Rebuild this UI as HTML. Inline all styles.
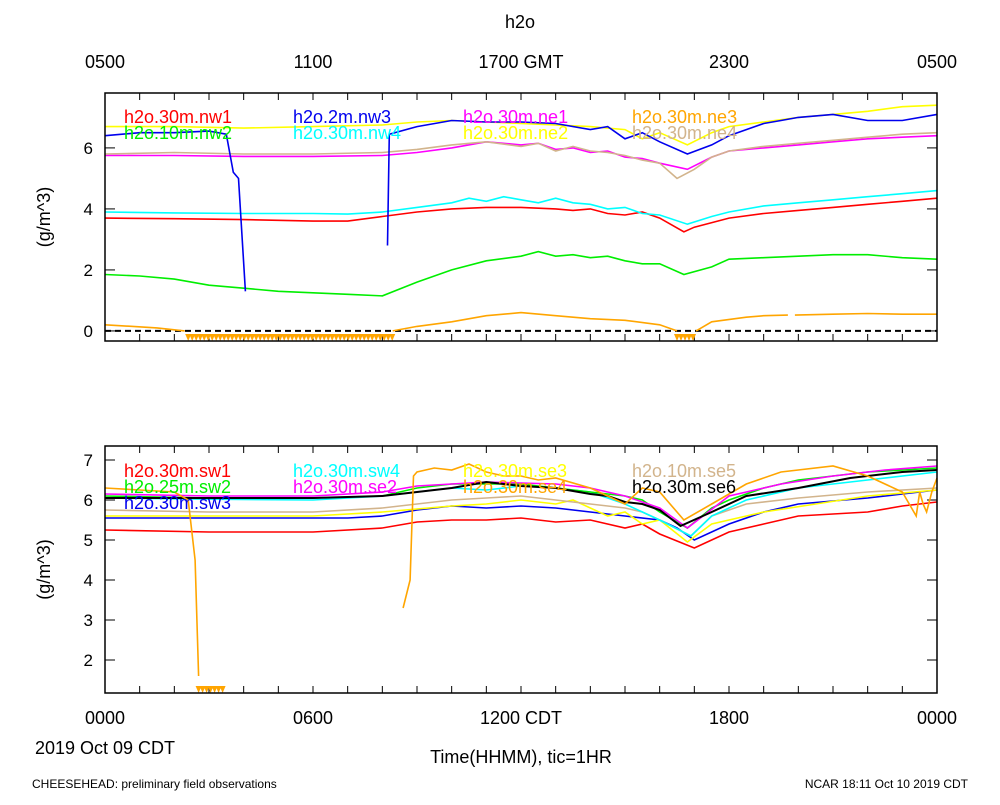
<!DOCTYPE html>
<html><head><meta charset="utf-8"><style>
body{margin:0;background:#fff;}
svg text{font-family:"Liberation Sans",sans-serif;}
</style></head><body>
<svg id="c" width="1000" height="800" xmlns="http://www.w3.org/2000/svg">
<rect width="1000" height="800" fill="#fff"/>
<text x="520" y="28" font-size="18" text-anchor="middle">h2o</text>
<g id="top"></g>
<g id="bot"></g>
<text x="105" y="724" font-size="18" text-anchor="middle">0000</text>
<text x="313" y="724" font-size="18" text-anchor="middle">0600</text>
<text x="521" y="724" font-size="18" text-anchor="middle">1200 CDT</text>
<text x="729" y="724" font-size="18" text-anchor="middle">1800</text>
<text x="937" y="724" font-size="18" text-anchor="middle">0000</text>
<text x="105" y="754" font-size="18" text-anchor="middle">2019 Oct 09 CDT</text>
<text x="521" y="763" font-size="18" text-anchor="middle">Time(HHMM), tic=1HR</text>
<text x="105" y="68" font-size="18" text-anchor="middle">0500</text>
<text x="313" y="68" font-size="18" text-anchor="middle">1100</text>
<text x="521" y="68" font-size="18" text-anchor="middle">1700 GMT</text>
<text x="729" y="68" font-size="18" text-anchor="middle">2300</text>
<text x="937" y="68" font-size="18" text-anchor="middle">0500</text>
<text x="32" y="788" font-size="12">CHEESEHEAD: preliminary field observations</text>
<text x="968" y="788" font-size="12" text-anchor="end">NCAR 18:11 Oct 10 2019 CDT</text>
</svg>
<script>
// ---- top panel data (hours CDT, g/m^3) ----
const topTicks=[0,2,4,6];
const tNw1=[0,2,4,6,7,8,9,10,11,12,13,13.5,14,14.5,15,15.5,16,16.7,17,18,19,20,21,22,23,24];
const vNw1=[3.7,3.68,3.65,3.6,3.6,3.75,3.9,4.0,4.05,4.05,4.0,3.95,4.0,3.85,3.8,3.9,3.7,3.25,3.4,3.7,3.85,3.95,4.05,4.15,4.25,4.35];
const tNw4=[0,2,4,6,7,8,9,10,10.5,11,11.5,12,12.5,13,13.5,14,14.5,15,15.5,16,16.8,17.5,18,19,20,21,22,23,24];
const vNw4=[3.9,3.87,3.85,3.85,3.83,3.9,4.05,4.2,4.35,4.25,4.4,4.3,4.2,4.35,4.2,4.15,4.0,4.05,3.85,3.8,3.5,3.75,3.9,4.1,4.2,4.3,4.4,4.5,4.6];
const tNw2=[0,1,2,3,4,5,6,7,8,9,10,11,12,12.5,13,13.5,14,14.5,15,15.5,16,16.7,17.5,18,19,20,21,22,23,24];
const vNw2=[1.85,1.8,1.7,1.5,1.4,1.3,1.25,1.2,1.15,1.6,2.0,2.3,2.45,2.6,2.45,2.5,2.4,2.45,2.3,2.2,2.2,1.85,2.1,2.35,2.4,2.45,2.5,2.5,2.4,2.35];
const tNe1=[0,2,4,6,8,9,10,11,12,12.5,13,13.5,14,14.5,15,15.5,16,16.8,17.5,18,19,20,21,22,23,24];
const vNe1=[5.75,5.75,5.72,5.72,5.75,5.85,6.0,6.2,6.1,6.15,5.95,6.0,5.85,5.9,5.7,5.65,5.5,5.3,5.7,5.9,6.0,6.1,6.2,6.3,6.35,6.4];
const tNe4=[0,2,4,6,8,9,10,11,12,12.5,13,13.5,14,14.5,15,15.5,16,16.5,17,17.5,18,19,20,21,22,23,24];
const vNe4=[5.8,5.85,5.8,5.8,5.85,5.95,6.1,6.2,6.05,6.15,5.9,6.05,5.9,5.85,5.75,5.6,5.5,5.0,5.3,5.7,5.9,6.05,6.15,6.25,6.35,6.45,6.5];
const tNe2=[0,2,4,6,8,9,10,11,12,13,14,15,15.5,16,16.8,17.5,18,19,20,21,22,23,24];
const vNe2=[6.7,6.7,6.65,6.7,6.75,6.85,6.9,6.85,6.8,6.75,6.7,6.6,6.3,6.5,6.1,6.5,6.7,6.85,7.0,7.1,7.2,7.35,7.4];
const tNw3=[0,1,2,3,3.5,3.7,3.85,4.05,null,8.15,8.2,9,10,11,12,13,14,14.5,15,15.5,16,16.8,17.5,18,19,19.5,20,21,22,23,24];
const vNw3=[6.4,6.5,6.5,6.55,6.45,5.2,5.0,1.3,null,2.8,6.45,6.7,6.9,6.85,6.85,6.8,6.6,6.7,6.3,6.5,6.2,5.8,6.1,6.4,6.8,6.9,7.0,7.1,6.9,6.9,7.1];
const tNe3=[0,1.5,2.3,null,8.3,9,10,11,12,13,14,15,16,16.5,null,17.05,17.5,18.5,19,19.7,null,19.9,21,22,23,24];
const vNe3=[0.2,0.1,0.0,null,0.0,0.15,0.3,0.5,0.6,0.5,0.4,0.35,0.2,0.0,null,0.0,0.3,0.45,0.5,0.52,null,0.52,0.55,0.57,0.55,0.55];
const topMissing=[[2.4,8.3],[16.5,17.05]];
// ---- bottom panel data ----
const botTicks=[2,3,4,5,6,7];
const tSw1=[0,3,6,8,9,10,11,12,13,14,15,15.5,16,17,18,19,20,21,22,23,24];
const vSw1=[5.25,5.2,5.2,5.3,5.45,5.5,5.5,5.55,5.45,5.5,5.3,5.4,5.15,4.8,5.2,5.4,5.6,5.65,5.7,5.85,5.95];
const tSw2=[0,3,6,8,9,10,11,12,13,14,15,15.5,16,16.8,17.5,18,19,20,22,24];
const vSw2=[6.1,6.05,6.05,6.1,6.3,6.4,6.4,6.4,6.3,6.2,6.1,6.0,5.7,5.3,5.8,6.0,6.3,6.5,6.7,6.8];
const tSw3=[0,3,7,8,9,10,11,12,13,14,15,16,16.5,17,18,19,20,22,23,24];
const vSw3=[5.55,5.55,5.55,5.6,5.75,5.85,5.8,5.85,5.8,5.7,5.6,5.5,5.3,5.0,5.4,5.7,5.9,6.05,6.15,6.25];
const tSw4=[0,3,6,8,10,11,12,13,14,15,16,16.9,17.5,18.5,20,22,24];
const vSw4=[6.05,6.02,6.0,6.1,6.3,6.25,6.35,6.3,6.2,5.9,5.5,5.1,5.6,6.0,6.3,6.5,6.7];
const tSe2=[0,3,6,8,9,11,13,14,15,16,16.8,18,19.5,21,22.5,24];
const vSe2=[6.15,6.1,6.1,6.2,6.35,6.45,6.4,6.3,6.1,5.8,5.3,6.1,6.4,6.6,6.75,6.85];
const tSe3=[0,3,6,8,10,11,12,13,13.5,14.5,15,15.5,16,16.8,17.5,19,20.5,22,24];
const vSe3=[5.6,5.6,5.6,5.7,5.85,5.9,6.0,5.9,6.0,5.6,5.7,5.4,5.5,4.95,5.4,5.7,5.9,6.1,6.25];
const tSe5=[0,3,6,8,10,11,12,13,14,15,15.5,16,16.9,17.5,18.5,20,22,24];
const vSe5=[5.75,5.7,5.7,5.8,6.0,6.05,6.1,6.0,5.9,5.8,5.7,5.5,5.1,5.6,5.9,6.05,6.2,6.3];
const tSe6=[0,3,6,8,10,11,12,13,14,14.5,15,15.5,16,16.6,17.5,18.5,20,21.5,23,24];
const vSe6=[6.05,6.05,6.05,6.1,6.3,6.45,6.35,6.3,6.15,6.1,5.95,5.9,5.75,5.35,5.7,6.1,6.3,6.55,6.7,6.75];
const tSe4=[0,1,2,2.4,2.6,2.7,null,8.6,8.8,8.9,9.0,9.5,10,10.5,11,11.5,12,12.5,13,14,15,15.5,16,16.7,17.5,18.5,19.5,21,22,23,23.4,23.5,23.6,23.7,23.85,24];
const vSe4=[6.3,6.25,6.2,6.0,4.5,1.6,null,3.3,4.0,6.6,6.7,6.8,6.75,6.9,6.7,6.6,6.6,6.5,6.55,6.3,5.9,6.3,6.2,5.5,5.9,6.4,6.7,6.85,6.6,6.2,5.6,6.2,5.9,5.7,6.2,6.55];
const botMissing=[[2.7,3.45]];

const NS='http://www.w3.org/2000/svg';
const X0=105,X1=937;
const xs=h=>X0+(X1-X0)*h/24;
function mk(p,tag,at){const e=document.createElementNS(NS,tag);for(const k in at)e.setAttribute(k,at[k]);p.appendChild(e);return e;}

function panel(g,top,bot,vmin,vmax,ticks,series,legend,missing,zero){
  const ys=v=>bot-(v-vmin)/(vmax-vmin)*(bot-top);
  for(let h=0;h<=24;h++){
    const x=xs(h);
    const t1=mk(g,'line',{x1:x,x2:x,y1:top,y2:top+7,stroke:'#000','stroke-width':1});
    
    
    const t2=mk(g,'line',{x1:x,x2:x,y1:bot,y2:bot-7,stroke:'#000','stroke-width':1});
    
    
  }
  ticks.forEach(v=>{
    const y=ys(v);
    const l=mk(g,'line',{x1:X0,x2:X0+10,y1:y,y2:y,stroke:'#000'});
    
    
    const r=mk(g,'line',{x1:X1,x2:X1-10,y1:y,y2:y,stroke:'#000'});
    
    
    const t=mk(g,'text',{x:X0-12,y:y+6,'font-size':17,'text-anchor':'end'});
    t.textContent=v;
    
    
  });
  const yt=mk(g,'text',{x:50,y:(top+bot)/2,'font-size':18,'text-anchor':'middle',transform:`rotate(-90 50 ${(top+bot)/2})`});
  yt.textContent='(g/m^3)';
  
  
  if(zero){
    const z=mk(g,'line',{x1:X0,x2:X1,y1:ys(0),y2:ys(0),stroke:'#000','stroke-width':2,'stroke-dasharray':'6,4'});
    
    
  }
  series.forEach(s=>{
    let d='',pen=false;
    s.t.forEach((h,i)=>{
      if(h===null||s.v[i]===null){pen=false;return;}
      d+=(pen?'L':'M')+xs(h).toFixed(1)+' '+ys(s.v[i]).toFixed(1);pen=true;
    });
    const p=mk(g,'path',{d:d,fill:'none',stroke:s.c,'stroke-width':s.w||1.6});
    
    
  });
  missing.forEach(m=>{
    for(let x=xs(m[0]);x<=xs(m[1]);x+=4){
      const tr=mk(g,'path',{d:`M${x-3} ${bot-7}L${x+3} ${bot-7}L${x} ${bot}Z`,fill:'#ffa500'});
      
      
    }
  });
  const b=mk(g,'rect',{x:X0,y:top,width:X1-X0,height:bot-top,fill:'none',stroke:'#000','stroke-width':1.5});
  
  
  legend.forEach(l=>{
    const t=mk(g,'text',{x:l[1],y:l[2],'font-size':18,fill:l[3]});
    t.textContent=l[0];
    
    
  });
}
panel(document.getElementById('top'),93,341,-0.33,7.8,topTicks,[
 {n:'nw2',c:'#00ee00',t:tNw2,v:vNw2},{n:'nw1',c:'#ff0000',t:tNw1,v:vNw1},{n:'nw4',c:'#00ffff',t:tNw4,v:vNw4},
 {n:'ne1',c:'#ff00ff',t:tNe1,v:vNe1},{n:'ne4',c:'#d2b48c',t:tNe4,v:vNe4},{n:'ne2',c:'#ffff00',t:tNe2,v:vNe2},
 {n:'nw3',c:'#0000ee',t:tNw3,v:vNw3},{n:'ne3',c:'#ffa500',t:tNe3,v:vNe3}
],[
 ['h2o.30m.nw1',124,123,'#ff0000'],['h2o.2m.nw3',293,123,'#0000ee'],['h2o.30m.ne1',463,123,'#ff00ff'],['h2o.30m.ne3',632,123,'#ffa500'],
 ['h2o.10m.nw2',124,139,'#00ee00'],['h2o.30m.nw4',293,139,'#00ffff'],['h2o.30m.ne2',463,139,'#ffff00'],['h2o.30m.ne4',632,139,'#d2b48c']
],topMissing,true);
panel(document.getElementById('bot'),446,693,1.175,7.35,botTicks,[
 {n:'sw1',c:'#ff0000',t:tSw1,v:vSw1},{n:'sw3',c:'#0000ee',t:tSw3,v:vSw3},{n:'se3',c:'#ffff00',t:tSe3,v:vSe3},
 {n:'se5',c:'#d2b48c',t:tSe5,v:vSe5},{n:'sw4',c:'#00ffff',t:tSw4,v:vSw4},{n:'sw2',c:'#00ee00',t:tSw2,v:vSw2},
 {n:'se2',c:'#ff00ff',t:tSe2,v:vSe2},{n:'se6',c:'#000000',t:tSe6,v:vSe6,w:2},{n:'se4',c:'#ffa500',t:tSe4,v:vSe4}
],[
 ['h2o.30m.sw1',124,477,'#ff0000'],['h2o.30m.sw4',293,477,'#00ffff'],['h2o.30m.se3',463,477,'#ffff00'],['h2o.10m.se5',632,477,'#d2b48c'],
 ['h2o.25m.sw2',124,493,'#00ee00'],['h2o.30m.se2',293,493,'#ff00ff'],['h2o.30m.se4',463,493,'#ffa500'],['h2o.30m.se6',632,493,'#000000'],
 ['h2o.30m.sw3',124,509,'#0000ee']
],botMissing,false);
</script>
</body></html>
